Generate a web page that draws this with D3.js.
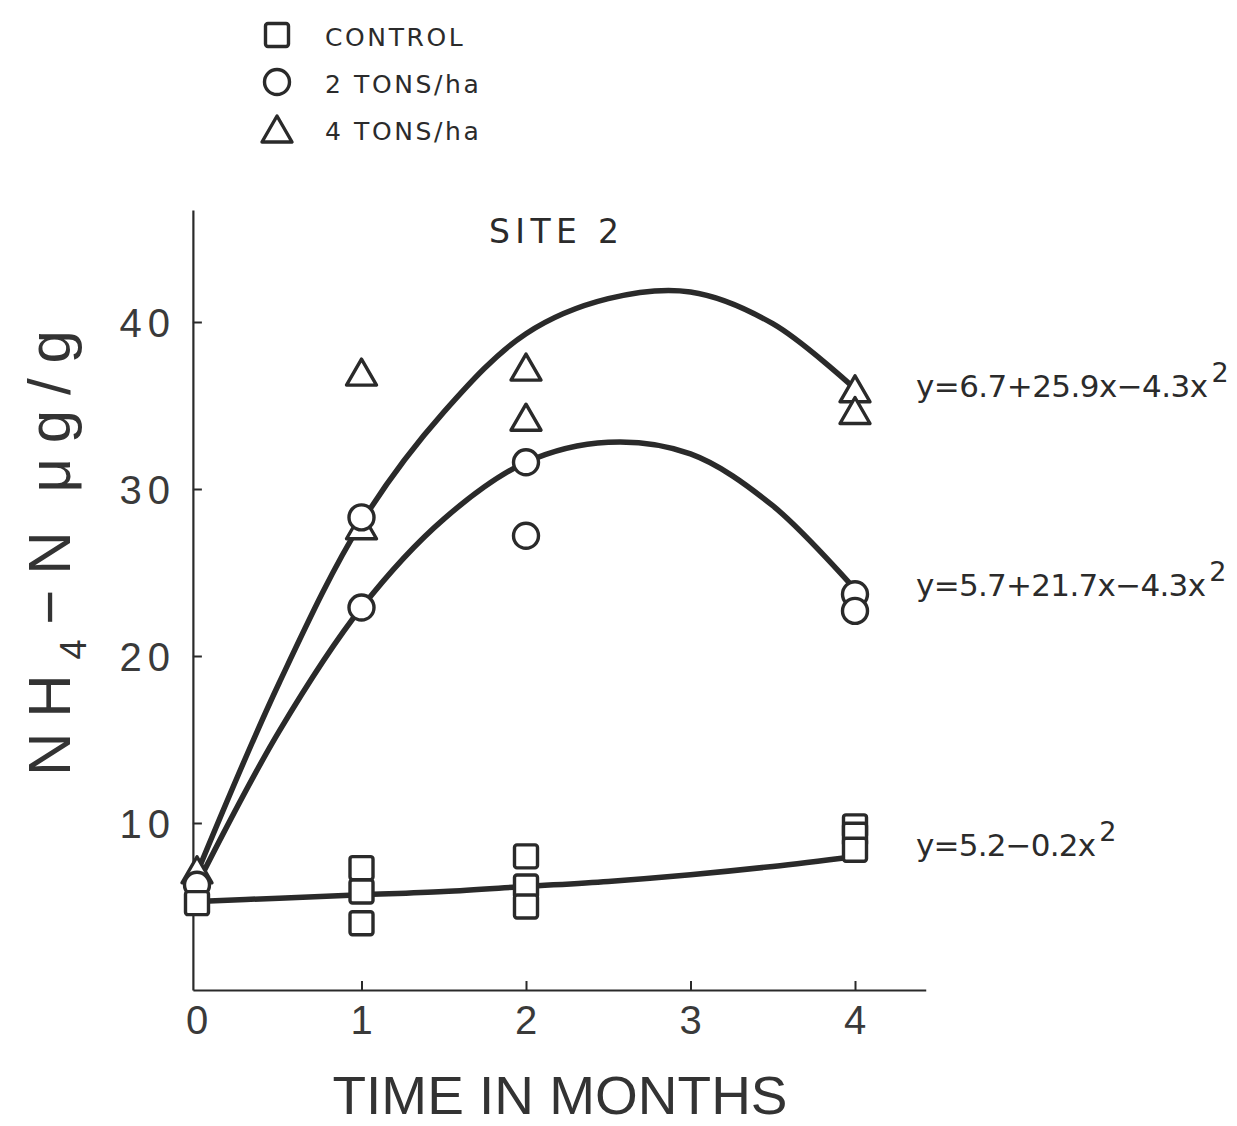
<!DOCTYPE html>
<html>
<head>
<meta charset="utf-8">
<script src="https://cdn.jsdelivr.net/npm/d3@7"></script>
<style>
  html, body { margin: 0; padding: 0; background: #ffffff; }
  svg { display: block; }
  text { font-family: "DejaVu Sans", sans-serif; fill: #2b2b2b; }
</style>
</head>
<body>
<script>
// Site 2: NH4-N (µg/g) over time after amendment
const xTicks = [0, 1, 2, 3, 4];
const yTicks = [10, 20, 30, 40];

// Observed values (month, NH4-N)
const controlMonths = [0, 1, 1, 1, 2, 2, 2, 4, 4, 4];
const controlValues = [5.2, 7.3, 5.9, 4.0, 8.0, 6.2, 5.0, 9.8, 9.3, 8.4];
const tons2Months = [0, 1, 1, 2, 2, 4, 4];
const tons2Values = [6.3, 28.3, 22.9, 31.6, 27.2, 23.7, 22.7];
const tons4Months = [0, 1, 1, 2, 2, 4, 4];
const tons4Values = [7.2, 37.0, 27.8, 37.3, 34.3, 36.0, 34.7];

// Fitted regression curves, sampled every half month
const curveMonths = [0, 0.5, 1, 1.5, 2, 2.5, 3, 3.5, 4];
const controlFit = [5.3, 5.5, 5.7, 5.9, 6.2, 6.5, 6.9, 7.4, 8.0];
const tons2Fit = [6.3, 15.5, 22.9, 28.2, 31.6, 32.8, 32.1, 29.0, 24.0];
const tons4Fit = [7.0, 18.4, 28.0, 34.6, 39.3, 41.4, 41.8, 39.9, 36.0];

const equations = ["y=6.7+25.9x\u22124.3x", "y=5.7+21.7x\u22124.3x", "y=5.2\u22120.2x"];
const equationAnchors = [35.5, 23.6, 8.0];   // baseline level of each equation
const equationWidths = [292, 290, 180];
const legendLabels = ["CONTROL", "2 TONS/ha", "4 TONS/ha"];
const legendShapes = ["square", "circle", "triangle"];

const W = 1237, H = 1126;
const ink = "#2a2a2a";

const svg = d3.select("body").append("svg")
  .attr("width", W).attr("height", H);

const x = d3.scaleLinear().domain([0, 4]).range([197, 855]);
const y = d3.scaleLinear().domain([0, 40]).range([990, 322]);

// Axes (ticks point inward)
const xAxisScale = x.copy().domain([-0.025, 4.43]).range([x(-0.025), x(4.43)]);
const yAxisScale = y.copy().domain([0, 46.7]).range([y(0), y(46.7)]);

const gx = svg.append("g")
  .attr("transform", `translate(0,${y(0)})`)
  .call(d3.axisBottom(xAxisScale).tickValues(xTicks.filter(d => d > 0)).tickSizeInner(-9).tickSizeOuter(0).tickFormat(""));
gx.select(".domain").attr("stroke", ink).attr("stroke-width", 2.2);
gx.selectAll(".tick line").attr("stroke", ink).attr("stroke-width", 2);

const gy = svg.append("g")
  .attr("transform", `translate(${x(-0.025)},0)`)
  .call(d3.axisLeft(yAxisScale).tickValues(yTicks).tickSizeInner(-9).tickSizeOuter(0).tickFormat(""));
gy.select(".domain").attr("stroke", ink).attr("stroke-width", 2.2);
gy.selectAll(".tick line").attr("stroke", ink).attr("stroke-width", 2);

// Tick labels
svg.append("g").selectAll("text").data(xTicks).join("text")
  .attr("x", d => x(d))
  .attr("y", y(0) + 44)
  .attr("text-anchor", "middle")
  .style("font-family", "'Liberation Sans', sans-serif")
  .style("font-size", "40px")
  .style("fill", "#3a3a3a")
  .text(d => d);

svg.append("g").selectAll("text").data(yTicks).join("text")
  .attr("x", 176)
  .attr("y", d => y(d) + 15)
  .attr("text-anchor", "end")
  .style("font-family", "'Liberation Sans', sans-serif")
  .style("font-size", "40px")
  .style("letter-spacing", "6px")
  .style("fill", "#3a3a3a")
  .text(d => d);

// Axis titles
svg.append("text")
  .attr("x", 560).attr("y", 1114)
  .attr("text-anchor", "middle")
  .attr("textLength", 455).attr("lengthAdjust", "spacingAndGlyphs")
  .style("font-family", "'Liberation Sans', sans-serif")
  .style("font-size", "54px")
  .style("fill", "#333")
  .text("TIME IN MONTHS");

const yTitle = svg.append("text")
  .attr("transform", "translate(70,776) rotate(-90)")
  .attr("text-anchor", "start")
  .attr("textLength", 446).attr("lengthAdjust", "spacing")
  .style("font-family", "'Liberation Sans', sans-serif")
  .style("font-size", "60px")
  .style("fill", "#333");
yTitle.append("tspan").text("NH");
yTitle.append("tspan").attr("dy", 16).style("font-size", "36px").text("4");
yTitle.append("tspan").attr("dy", -16).text("\u2212N");
yTitle.append("tspan").attr("dx", 24).text("\u03bcg/g");

// Panel title
svg.append("text")
  .attr("x", 554).attr("y", 243)
  .attr("text-anchor", "middle")
  .attr("textLength", 130).attr("lengthAdjust", "spacing")
  .style("font-size", "33px")
  .text("SITE 2");

// Fitted curves
const line = d3.line()
  .x(d => x(d[0]))
  .y(d => y(d[1]))
  .curve(d3.curveCatmullRom.alpha(0.5));

[controlFit, tons2Fit, tons4Fit].forEach(fit => {
  svg.append("path")
    .datum(curveMonths.map((m, i) => [m, fit[i]]))
    .attr("d", line)
    .attr("fill", "none")
    .attr("stroke", ink)
    .attr("stroke-width", 5.5)
    .attr("stroke-linecap", "round");
});

// Marker drawing
const sq = 23, cr = 12.5, tw = 30, th = 26;
function drawMarker(g, shape, cx, cy) {
  const common = s => s.attr("fill", "#fff").attr("stroke", ink).attr("stroke-width", 3.4).attr("stroke-linejoin", "round");
  if (shape === "square") {
    common(g.append("rect").attr("x", cx - sq / 2).attr("y", cy - sq / 2)
      .attr("width", sq).attr("height", sq).attr("rx", 2.5));
  } else if (shape === "circle") {
    common(g.append("circle").attr("cx", cx).attr("cy", cy).attr("r", cr));
  } else {
    common(g.append("path").attr("d",
      `M${cx},${cy - th / 2}L${cx + tw / 2},${cy + th / 2}L${cx - tw / 2},${cy + th / 2}Z`));
  }
}

const markers = svg.append("g");
tons4Months.forEach((m, i) => drawMarker(markers, "triangle", x(m), y(tons4Values[i])));
tons2Months.forEach((m, i) => drawMarker(markers, "circle", x(m), y(tons2Values[i])));
controlMonths.forEach((m, i) => drawMarker(markers, "square", x(m), y(controlValues[i])));

// Equations
equations.forEach((eq, i) => {
  const t = svg.append("text")
    .attr("x", 916)
    .attr("y", y(equationAnchors[i]))
    .style("font-size", "31px")
    .attr("fill", ink);
  t.append("tspan").attr("textLength", equationWidths[i]).attr("lengthAdjust", "spacing").text(eq);
  t.append("tspan").attr("dy", -15).attr("dx", 4).style("font-size", "27px").text("2");
});

// Legend
const legend = svg.append("g");
legendLabels.forEach((lab, i) => {
  const cy = 35 + i * 47;
  drawMarker(legend, legendShapes[i], 277, cy);
  legend.append("text")
    .attr("x", 325).attr("y", cy + 11)
    .style("font-size", "25px")
    .style("letter-spacing", "2.6px")
    .text(lab);
});
</script>
</body>
</html>
